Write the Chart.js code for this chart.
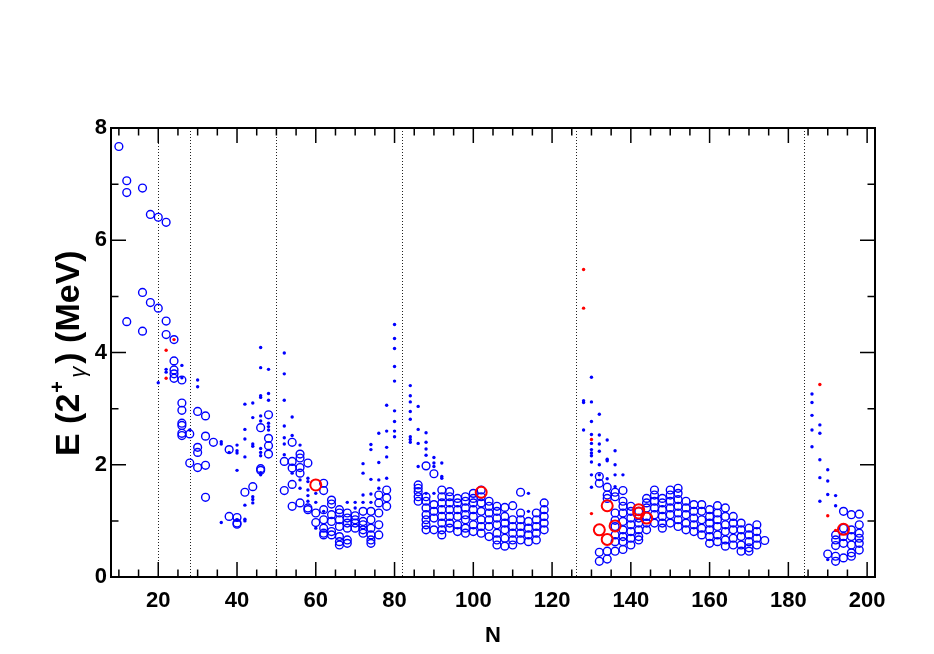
<!DOCTYPE html>
<html>
<head>
<meta charset="utf-8">
<script src="https://cdn.jsdelivr.net/npm/chart.js@4.4.1/dist/chart.umd.min.js"></script>
<style>
  html, body { margin: 0; padding: 0; background: #fff; }
  #wrap { width: 934px; height: 654px; }
</style>
</head>
<body>
<div id="wrap"><canvas id="e2Chart" width="934" height="654"></canvas></div>
<script>
// axis ticks and shell closures
const xTicks = [20, 40, 60, 80, 100, 120, 140, 160, 180, 200];
const yTicks = [0, 2, 4, 6, 8];
const magicN = [20, 28, 50, 82, 126, 184];

// [N, [E(2+) values in MeV]]
const blueRings = [
  [10, [7.67]], [12, [7.06, 6.85, 4.55]], [16, [6.93, 5.07, 4.38]], [18, [6.46, 4.89]],
  [20, [6.41, 4.79]], [22, [6.32, 4.56, 4.32]], [24, [4.23, 3.85, 3.69, 3.62, 3.54]],
  [26, [3.51, 3.10, 2.97, 2.74, 2.70, 2.56, 2.52]], [28, [2.55, 2.03]],
  [30, [2.95, 2.31, 2.22, 1.95]], [32, [2.87, 2.51, 1.99, 1.42]], [34, [2.40]],
  [38, [2.27, 1.08]], [40, [1.06, 0.96, 0.94]], [42, [1.51]], [44, [1.61]],
  [46, [2.66, 1.93, 1.90]], [48, [2.89, 2.47, 2.34, 2.19]], [52, [2.06, 1.54]],
  [54, [2.40, 2.06, 1.94, 1.65, 1.26]], [56, [2.19, 2.12, 1.95, 1.85, 1.32]],
  [58, [2.03, 1.23, 1.20]], [60, [1.14, 0.97]],
  [62, [1.67, 1.54, 1.20, 1.02, 0.87, 0.78, 0.75]], [64, [1.37, 1.30, 1.11, 0.99, 0.81, 0.75]],
  [66, [1.20, 1.14, 1.02, 0.90, 0.72, 0.63, 0.57]], [68, [1.14, 1.05, 0.96, 0.87, 0.66, 0.60]],
  [70, [1.09, 1.02, 0.96, 0.87]], [72, [1.17, 0.99, 0.93, 0.84, 0.78]],
  [74, [1.17, 1.02, 0.87, 0.75, 0.66, 0.60]], [76, [1.46, 1.32, 1.14, 0.93, 0.75]],
  [78, [1.55, 1.41, 1.26]], [86, [1.64, 1.58, 1.52, 1.43, 1.35]],
  [88, [1.98, 1.43, 1.35, 1.23, 1.11, 1.02, 0.93, 0.84]], [90, [1.84, 1.29, 1.17, 1.05, 0.84]],
  [92, [1.55, 1.43, 1.32, 1.20, 1.08, 0.96, 0.84, 0.75]], [94, [1.52, 1.43, 1.32, 1.20, 1.08, 0.96, 0.87]],
  [96, [1.40, 1.32, 1.20, 1.08, 0.93, 0.81]], [98, [1.43, 1.35, 1.23, 1.11, 1.02, 0.87, 0.78]],
  [100, [1.49, 1.40, 1.32, 1.20, 1.08, 0.93, 0.81]], [102, [1.55, 1.43, 1.32, 1.17, 1.02, 0.90, 0.78]],
  [104, [1.35, 1.26, 1.14, 1.02, 0.90, 0.72]], [106, [1.26, 1.17, 1.05, 0.93, 0.78, 0.66, 0.57]],
  [108, [1.24, 1.08, 0.96, 0.84, 0.69, 0.55]], [110, [1.27, 1.02, 0.90, 0.78, 0.66, 0.57]],
  [112, [1.51, 1.14, 1.02, 0.90, 0.78, 0.66]], [114, [0.99, 0.87, 0.75, 0.63]],
  [116, [1.14, 1.02, 0.90, 0.78, 0.66]], [118, [1.32, 1.20, 1.08, 0.96, 0.84]],
  [132, [1.79, 1.67, 0.44, 0.28]], [134, [1.60, 1.46, 1.40, 0.46, 0.32]],
  [136, [1.51, 1.43, 1.14, 1.01, 0.90, 0.75, 0.63, 0.46]],
  [138, [1.54, 1.35, 1.26, 1.14, 0.99, 0.84, 0.72, 0.63, 0.49]],
  [140, [1.26, 1.17, 1.05, 0.93, 0.81, 0.69, 0.57]], [142, [1.17, 1.05, 0.96, 0.84, 0.72, 0.66]],
  [144, [1.40, 1.32, 1.23, 1.08, 0.96, 0.84]], [146, [1.55, 1.46, 1.35, 1.23, 1.11, 0.96]],
  [148, [1.40, 1.32, 1.20, 1.08, 0.96, 0.87]], [150, [1.55, 1.46, 1.35, 1.23, 1.11, 0.96]],
  [152, [1.58, 1.49, 1.38, 1.26, 1.14, 1.02, 0.90]], [154, [1.35, 1.23, 1.11, 0.96, 0.84]],
  [156, [1.29, 1.17, 1.05, 0.93, 0.81]], [158, [1.29, 1.17, 1.02, 0.87, 0.75]],
  [160, [1.20, 1.08, 0.96, 0.84, 0.72, 0.60]], [162, [1.27, 1.14, 1.02, 0.90, 0.75, 0.63]],
  [164, [1.23, 1.08, 0.93, 0.81, 0.66, 0.55]], [166, [1.08, 0.96, 0.84, 0.69, 0.57]],
  [168, [0.96, 0.84, 0.72, 0.57, 0.46]], [170, [0.87, 0.75, 0.63, 0.52, 0.46]],
  [172, [0.93, 0.81, 0.69, 0.57]], [174, [0.65]], [190, [0.41]],
  [192, [0.75, 0.66, 0.56, 0.37, 0.28]], [194, [1.17, 0.87, 0.72, 0.60, 0.34]],
  [196, [1.11, 0.84, 0.72, 0.57, 0.43, 0.37]], [198, [1.12, 0.93, 0.78, 0.69, 0.60, 0.48]]
];

const blueDots = [
  [20, [3.46]], [22, [3.70, 3.65]], [26, [3.77, 3.55]], [28, [2.62]], [30, [3.51, 3.39]],
  [36, [2.41, 2.37, 0.97]], [38, [2.22]], [40, [2.35, 2.25, 2.21, 1.90, 1.02]],
  [42, [3.08, 2.63, 2.46, 2.14, 1.28, 1.03, 1.00]], [44, [3.10, 2.84, 2.37, 2.33, 1.43, 1.38, 1.32]],
  [46, [4.09, 3.73, 3.23, 3.20, 2.87, 2.78, 2.29, 2.22, 2.16, 1.86, 1.82]],
  [48, [3.70, 3.27, 3.15, 2.74, 2.68, 2.62]], [52, [3.99, 3.62, 3.15, 2.69, 2.48, 2.37, 2.18]],
  [54, [2.85, 2.52, 1.85]], [56, [2.35, 1.73, 1.58]], [58, [1.76, 1.70, 1.55, 1.45, 1.35]],
  [60, [1.49, 1.33, 0.87]], [62, [1.17]], [68, [1.33]], [70, [1.33, 1.23]],
  [72, [2.02, 1.85, 1.46, 1.33]], [74, [2.36, 2.27, 1.74, 1.48, 1.33]], [76, [2.56, 2.04, 1.73, 1.58]],
  [78, [3.06, 2.60, 2.31, 2.14, 1.76]], [80, [4.50, 4.25, 4.07, 3.75, 3.49, 2.96, 2.77, 2.60, 2.50]],
  [84, [3.41, 3.23, 3.12, 2.95, 2.81, 2.50, 2.45, 2.40]], [86, [3.04, 2.63, 2.38, 1.97]],
  [88, [2.57, 2.40, 2.28, 2.17, 1.49]], [90, [2.13, 2.03, 1.97, 1.49]], [92, [2.03, 1.79, 1.76]],
  [114, [1.49, 1.17]], [128, [3.14, 3.11, 2.62]],
  [130, [3.56, 3.12, 2.77, 2.54, 2.38, 2.27, 2.21, 2.16, 2.05, 1.82, 1.60]],
  [132, [2.90, 2.53, 2.37, 2.24, 2.00, 1.82]], [134, [2.44, 2.10, 2.07, 1.75]],
  [136, [2.25, 2.00, 1.82, 1.61]], [138, [1.82]],
  [186, [3.26, 3.11, 2.88, 2.62, 2.32]], [188, [2.71, 2.56, 2.09, 1.77, 1.35]],
  [190, [1.91, 1.71, 1.47, 0.31]], [192, [1.45, 1.27]]
];

const redDots = [
  [22, [4.04, 3.54]], [24, [4.23]], [128, [5.48, 4.79]], [130, [2.45, 1.13]],
  [188, [3.43]], [190, [1.09]], [192, [0.83]]
];

const redRings = [
  [60, [1.64]], [102, [1.51]], [132, [0.84]], [134, [1.27, 0.67]], [136, [0.91]],
  [142, [1.20, 1.14]], [144, [1.05]], [194, [0.85]]
];

function toPoints(groups) {
  const pts = [];
  groups.forEach(function (g) {
    g[1].forEach(function (e) { pts.push({ x: g[0], y: e }); });
  });
  return pts;
}

const FONT = '"Liberation Sans", Arial, Helvetica, sans-serif';

// ROOT-like frame: box, inward ticks on all four sides, dotted magic-number lines
const rootFrame = {
  id: "rootFrame",
  beforeDatasetsDraw(chart) {
    const { ctx, chartArea: a, scales: { x } } = chart;
    ctx.save();
    ctx.strokeStyle = "#222";
    ctx.lineWidth = 1;
    ctx.setLineDash([1, 2]);
    magicN.forEach(function (n) {
      const px = Math.round(x.getPixelForValue(n)) + 0.5;
      ctx.beginPath();
      ctx.moveTo(px, a.top);
      ctx.lineTo(px, a.bottom);
      ctx.stroke();
    });
    ctx.restore();
  },
  afterDraw(chart) {
    const { ctx, chartArea: a, scales: { x, y } } = chart;
    ctx.save();
    ctx.strokeStyle = "#000";
    ctx.lineWidth = 1.5;
    ctx.beginPath();
    for (let n = 10; n <= 200; n += 5) {
      const px = x.getPixelForValue(n);
      const len = xTicks.includes(n) ? 15 : 7.5;
      ctx.moveTo(px, a.bottom); ctx.lineTo(px, a.bottom - len);
      ctx.moveTo(px, a.top); ctx.lineTo(px, a.top + len);
    }
    for (let v = 0; v <= 8; v += 1) {
      const py = y.getPixelForValue(v);
      const len = yTicks.includes(v) ? 15 : 7.5;
      ctx.moveTo(a.left, py); ctx.lineTo(a.left + len, py);
      ctx.moveTo(a.right, py); ctx.lineTo(a.right - len, py);
    }
    ctx.stroke();
    ctx.lineWidth = 2;
    ctx.strokeRect(a.left, a.top, a.right - a.left, a.bottom - a.top);

    // y title: E (2+ gamma) (MeV)
    ctx.translate(79, 456);
    ctx.rotate(-Math.PI / 2);
    ctx.fillStyle = "#000";
    ctx.textBaseline = "alphabetic";
    let cx = 0;
    ctx.font = "bold 34px " + FONT;
    ctx.fillText("E (2", cx, 0);
    cx += ctx.measureText("E (2").width;
    ctx.font = "bold 20px " + FONT;
    ctx.fillText("+", cx + 1, -15);
    ctx.font = "italic 22px " + FONT;
    ctx.fillText("\u03b3", cx + 16, 6);
    cx += 30;
    ctx.font = "bold 34px " + FONT;
    ctx.fillText(") (MeV)", cx, 0);
    ctx.restore();
  }
};

new Chart(document.getElementById("e2Chart"), {
  type: "scatter",
  data: {
    datasets: [
      {
        label: "red rings",
        data: toPoints(redRings),
        pointStyle: "circle",
        pointRadius: 5.5,
        pointBorderWidth: 2,
        pointBorderColor: "#ff0000",
        pointBackgroundColor: "rgba(0,0,0,0)"
      },
      {
        label: "red dots",
        data: toPoints(redDots),
        pointStyle: "circle",
        pointRadius: 1.7,
        pointBorderWidth: 0,
        pointBackgroundColor: "#ff0000"
      },
      {
        label: "blue dots",
        data: toPoints(blueDots),
        pointStyle: "circle",
        pointRadius: 1.7,
        pointBorderWidth: 0,
        pointBackgroundColor: "#0000ff"
      },
      {
        label: "blue rings",
        data: toPoints(blueRings),
        pointStyle: "circle",
        pointRadius: 3.9,
        pointBorderWidth: 1.4,
        pointBorderColor: "#0000ff",
        pointBackgroundColor: "rgba(0,0,0,0)"
      }
    ]
  },
  options: {
    responsive: false,
    animation: false,
    layout: { padding: { left: 0, right: 59, top: 128, bottom: 0 } },
    plugins: {
      legend: { display: false },
      tooltip: { enabled: false }
    },
    scales: {
      x: {
        type: "linear",
        min: 8,
        max: 202,
        afterBuildTicks: function (scale) {
          scale.ticks = xTicks.map(function (v) { return { value: v }; });
        },
        afterFit: function (scale) { scale.height = 77; },
        grid: { display: false, drawTicks: false },
        border: { display: false },
        ticks: {
          padding: 11,
          color: "#000",
          font: { family: FONT, size: 22, weight: "bold" },
          maxRotation: 0
        },
        title: {
          display: true,
          text: "N",
          color: "#000",
          font: { family: FONT, size: 22, weight: "bold" },
          padding: { top: 0, bottom: 5 }
        }
      },
      y: {
        type: "linear",
        min: 0,
        max: 8,
        afterBuildTicks: function (scale) {
          scale.ticks = yTicks.map(function (v) { return { value: v }; });
        },
        afterFit: function (scale) { scale.width = 111; },
        grid: { display: false, drawTicks: false },
        border: { display: false },
        ticks: {
          padding: 4,
          color: "#000",
          font: { family: FONT, size: 22, weight: "bold" }
        }
      }
    }
  },
  plugins: [rootFrame]
});
</script>
</body>
</html>
